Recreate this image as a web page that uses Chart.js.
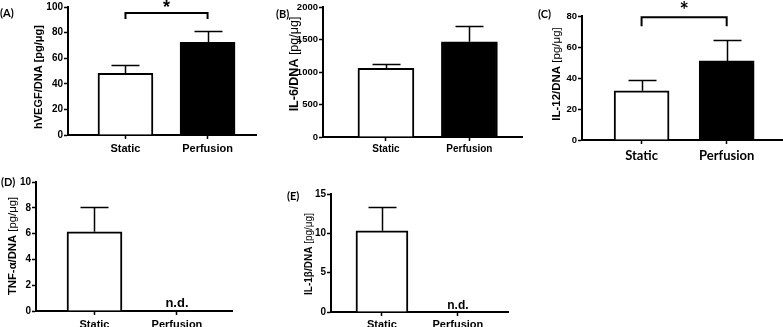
<!DOCTYPE html>
<html><head><meta charset="utf-8">
<script src="https://cdn.jsdelivr.net/npm/chart.js@4/dist/chart.umd.min.js"></script>
<style>
html,body{margin:0;padding:0;background:#fff;width:783px;height:327px;overflow:hidden;position:relative}
canvas{position:absolute}
.pl{position:absolute;font-family:Lato,"Liberation Sans",sans-serif;font-weight:bold;font-size:11px;line-height:12px;color:#000;white-space:nowrap}
</style></head><body>
<canvas id="cA" width="262" height="165" style="left:0px;top:0px"></canvas>
<canvas id="cB" width="263" height="165" style="left:262px;top:0px"></canvas>
<canvas id="cC" width="258" height="170" style="left:525px;top:0px"></canvas>
<canvas id="cD" width="262" height="162" style="left:0px;top:165px"></canvas>
<canvas id="cE" width="263" height="162" style="left:262px;top:165px"></canvas>
<div class="pl" id="lA" style="left:0px;top:7px"></div>
<div class="pl" id="lB" style="left:276px;top:8px"></div>
<div class="pl" id="lC" style="left:538px;top:8px"></div>
<div class="pl" id="lD" style="left:1px;top:176px"></div>
<div class="pl" id="lE" style="left:287px;top:190px"></div>
<script>
// ---- data ----
const categories = ['Static', 'Perfusion'];
const panelLetters = ['(A)', '(B)', '(C)', '(D)', '(E)'];
const barColors = ['#ffffff', '#000000'];

const vegfMean = [48.2, 72.4];
const vegfErr  = [6.5, 8.9];
const vegfTicks = [0, 20, 40, 60, 80, 100];

const il6Mean = [1057, 1466];
const il6Err  = [66, 242];
const il6Ticks = [0, 500, 1000, 1500, 2000];

const il12Mean = [31.7, 51.0];
const il12Err  = [6.9, 13.4];
const il12Ticks = [0, 20, 40, 60, 80];

const tnfMean = [6.14, null];
const tnfErr  = [1.9, null];
const tnfTicks = [0, 2, 4, 6, 8, 10];

const il1bMean = [10.33, null];
const il1bErr  = [3.05, null];
const il1bTicks = [0, 5, 10, 15];

const vegfTitle = [['hVEGF/DNA [pg/μg]', true]];
const il6Title  = [['IL-6/DNA ', true], ['[pg/μg]', false]];
const il12Title = [['IL-12/DNA ', true], ['[pg/μg]', false]];
const tnfTitle  = [['TNF-α/DNA ', true], ['[pg/μg]', false]];
const il1bTitle = [['IL-1β/DNA ', true], ['[pg/μg]', false]];
const sigMark = '*';
const ndMark = 'n.d.';

// ---- panel layout / style ----
const ARIAL = '"Liberation Sans", Arial, sans-serif';
const LATO = 'Lato, "Liberation Sans", sans-serif';
const panels = {
  cA: { left: 0, top: 0, w: 262, h: 165, area: {left: 68, top: 7, right: 256, bottom: 135},
        mean: vegfMean, err: vegfErr, yTicks: vegfTicks, xMin: -0.70, xMax: 1.59, barW: 55,
        yFont: 10, xFont: 11, xFam: ARIAL, xPad: 3, title: vegfTitle, tSize: 11, tX: 39, tY: 77,
        sig: {top: 95.3, drop: 90.6, font: 'bold 18px ' + ARIAL, base: 13} },
  cB: { left: 262, top: 0, w: 263, h: 165, area: {left: 323, top: 7, right: 522, bottom: 137},
        mean: il6Mean, err: il6Err, yTicks: il6Ticks, xMin: -0.754, xMax: 1.63, barW: 56,
        yFont: 9.5, xFont: 10, xFam: ARIAL, xPad: 2, title: il6Title, tSize: 12.5, tX: 295, tY: 64 },
  cC: { left: 525, top: 0, w: 258, h: 170, area: {left: 582, top: 16, right: 782, bottom: 140},
        mean: il12Mean, err: il12Err, yTicks: il12Ticks, xMin: -0.70, xMax: 1.65, barW: 55,
        yFont: 9.5, xFont: 13, xFam: LATO, xPad: 4, title: il12Title, tSize: 11.5, tX: 557, tY: 74,
        sig: {top: 79.2, drop: 73.4, font: 'bold 22px ' + LATO, base: 18} },
  cD: { left: 0, top: 165, w: 262, h: 162, area: {left: 36, top: 182, right: 232, bottom: 311},
        mean: tnfMean, err: tnfErr, yTicks: tnfTicks, xMin: -0.709, xMax: 1.667, barW: 55,
        yFont: 10, xFont: 11, xFam: ARIAL, xPad: 3, title: tnfTitle, tSize: 11.3, tX: 13, tY: 246,
        nd: {font: 'bold 13px ' + ARIAL, base: 307} },
  cE: { left: 262, top: 165, w: 263, h: 162, area: {left: 331, top: 194, right: 508, bottom: 312},
        mean: il1bMean, err: il1bErr, yTicks: il1bTicks, xMin: -0.671, xMax: 1.66, barW: 52,
        yFont: 10, xFont: 11, xFam: ARIAL, xPad: 2, title: il1bTitle, tSize: 10, tX: 309, tY: 254,
        nd: {font: 'bold 12px ' + ARIAL, base: 309} }
};

const deco = {
  id: 'deco',
  afterDatasetsDraw(chart) {
    const p = panels[chart.canvas.id];
    const ctx = chart.ctx, xs = chart.scales.x, ys = chart.scales.y;
    ctx.save();
    ctx.strokeStyle = '#000'; ctx.fillStyle = '#000';
    // error bars (upper)
    chart.getDatasetMeta(0).data.forEach((el, i) => {
      const m = p.mean[i], e = p.err[i];
      if (m == null || e == null) return;
      const x = Math.round(el.x) + 0.5, yt = Math.round(ys.getPixelForValue(m + e)) + 0.5;
      ctx.lineWidth = 1.5;
      ctx.beginPath();
      ctx.moveTo(x, el.y); ctx.lineTo(x, yt);
      ctx.moveTo(x - 14, yt); ctx.lineTo(x + 14, yt);
      ctx.stroke();
    });
    // significance bracket
    if (p.sig) {
      const x0 = xs.getPixelForValue(0), x1 = xs.getPixelForValue(1);
      const yh = ys.getPixelForValue(p.sig.top), yl = ys.getPixelForValue(p.sig.drop);
      ctx.lineWidth = 2;
      ctx.beginPath();
      ctx.moveTo(x0, yl); ctx.lineTo(x0, yh); ctx.lineTo(x1, yh); ctx.lineTo(x1, yl);
      ctx.stroke();
      ctx.font = p.sig.font; ctx.textAlign = 'center'; ctx.textBaseline = 'alphabetic';
      ctx.fillText(sigMark, (x0 + x1) / 2, p.sig.base - p.top);
    }
    // not detected labels
    if (p.nd) {
      ctx.font = p.nd.font; ctx.textAlign = 'center'; ctx.textBaseline = 'alphabetic';
      p.mean.forEach((m, i) => {
        if (m == null) ctx.fillText(ndMark, xs.getPixelForValue(i), p.nd.base - p.top);
      });
    }
    // y title with mixed weights
    ctx.translate(p.tX - p.left, p.tY - p.top);
    ctx.rotate(-Math.PI / 2);
    ctx.textBaseline = 'middle'; ctx.textAlign = 'left';
    const fonts = p.title.map(([t, b]) => (b ? 'bold ' : '') + p.tSize + 'px ' + ARIAL);
    let total = 0;
    p.title.forEach(([t], k) => { ctx.font = fonts[k]; total += ctx.measureText(t).width; });
    let cx = -total / 2;
    p.title.forEach(([t], k) => { ctx.font = fonts[k]; ctx.fillText(t, cx, 0); cx += ctx.measureText(t).width; });
    ctx.restore();
  }
};

function makePanel(id) {
  const p = panels[id];
  const a = p.area;
  new Chart(document.getElementById(id), {
    type: 'bar',
    data: { datasets: [{
      data: p.mean.map((v, i) => ({x: i, y: v})),
      backgroundColor: barColors, borderColor: '#000', borderWidth: 2,
      barThickness: p.barW, borderSkipped: 'bottom'
    }] },
    options: {
      responsive: false, animation: false, devicePixelRatio: 1,
      layout: { padding: { top: a.top - p.top, right: (p.left + p.w) - a.right, left: 0, bottom: 0 } },
      plugins: { legend: {display: false}, tooltip: {enabled: false}, title: {display: false} },
      scales: {
        x: {
          type: 'linear', min: p.xMin, max: p.xMax, bounds: 'data', offset: false,
          afterBuildTicks: s => { s.ticks = categories.map((c, i) => ({value: i})); },
          ticks: { autoSkip: false, maxRotation: 0, minRotation: 0,
                   padding: p.xPad, color: '#000',
                   font: {family: p.xFam, weight: 'bold', size: p.xFont},
                   callback: (v, i) => categories[i] },
          grid: { display: true, offset: false, drawOnChartArea: false, drawTicks: true, tickLength: 4,
                  tickWidth: 1.5, tickColor: '#000', color: '#000' },
          border: { display: true, color: '#000', width: 2 },
          afterFit: s => { s.height = (p.top + p.h) - a.bottom; }
        },
        y: {
          min: p.yTicks[0], max: p.yTicks[p.yTicks.length - 1],
          afterBuildTicks: s => { s.ticks = p.yTicks.map(v => ({value: v})); },
          ticks: { color: '#000', padding: 1, font: {family: ARIAL, weight: 'bold', size: p.yFont},
                   callback: v => String(v) },
          grid: { display: true, drawOnChartArea: false, drawTicks: true, tickLength: 4,
                  tickWidth: 1.5, tickColor: '#000', color: '#000' },
          border: { display: true, color: '#000', width: 2 },
          afterFit: s => { s.width = a.left - p.left; }
        }
      }
    },
    plugins: [deco]
  });
}

['cA', 'cB', 'cC', 'cD', 'cE'].forEach(makePanel);
['lA', 'lB', 'lC', 'lD', 'lE'].forEach((id, i) => { document.getElementById(id).textContent = panelLetters[i]; });
</script>
</body></html>
